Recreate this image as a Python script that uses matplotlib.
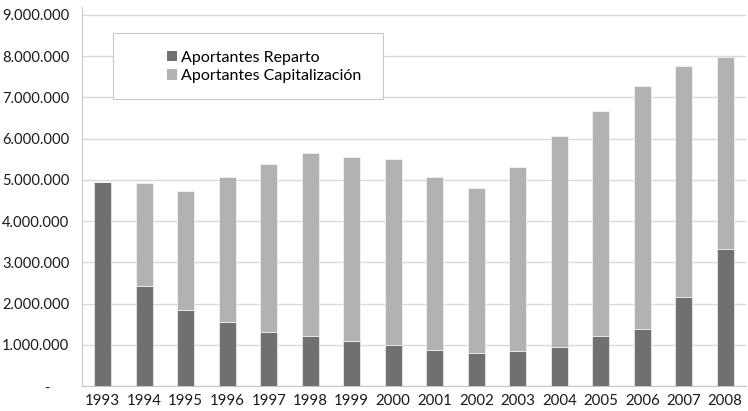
import matplotlib
matplotlib.use("Agg")
import matplotlib.pyplot as plt
from matplotlib.patches import Rectangle, Patch

years = ["1993", "1994", "1995", "1996", "1997", "1998", "1999", "2000",
         "2001", "2002", "2003", "2004", "2005", "2006", "2007", "2008"]
reparto = [4947000, 2425000, 1843000, 1544000, 1318000, 1221000, 1099000, 994000,
           881000, 808000, 857000, 946000, 1221000, 1382000, 2158000, 3323000]
capitalizacion = [0, 2490000, 2886000, 3517000, 4058000, 4430000, 4455000, 4511000,
                  4180000, 3986000, 4454000, 5117000, 5456000, 5902000, 5603000, 4664000]
yticks = [0, 1000000, 2000000, 3000000, 4000000, 5000000, 6000000, 7000000, 8000000, 9000000]
ytick_labels = ["-     ", "1.000.000", "2.000.000", "3.000.000", "4.000.000", "5.000.000",
                "6.000.000", "7.000.000", "8.000.000", "9.000.000"]
series_names = ["Aportantes Reparto", "Aportantes Capitalización"]

plt.rcParams['font.family'] = ['Lato', 'DejaVu Sans']

dark = "#707070"
light = "#b2b2b2"

fig = plt.figure(figsize=(7.48, 4.11), dpi=100)
W, H = 748, 411
ax = fig.add_axes([82 / W, (H - 386) / H, (746 - 82) / W, (386 - 7) / H])

x = range(len(years))
ax.bar(x, reparto, width=0.4, color=dark, edgecolor="white", linewidth=0.4, zorder=3)
ax.bar(x, capitalizacion, width=0.4, bottom=reparto, color=light, edgecolor="white",
       linewidth=0.4, zorder=3)

ax.set_xlim(-0.5, len(years) - 0.5)
ax.set_ylim(0, 9190000)
ax.set_yticks(yticks)
ax.set_yticklabels(ytick_labels, fontsize=10.6, color="#1a1a1a")
ax.set_xticks(list(x))
ax.set_xticklabels(years, fontsize=10.8, color="#1a1a1a")
ax.tick_params(axis="both", length=0)
ax.tick_params(axis="y", pad=9)
ax.tick_params(axis="x", pad=6)

ax.yaxis.grid(True, color="#d9d9d9", linewidth=1.0, zorder=0)
ax.set_axisbelow(True)
for s in ["top", "right"]:
    ax.spines[s].set_visible(False)
ax.spines["left"].set_color("#c8c8c8")
ax.spines["bottom"].set_color("#c8c8c8")

# legend box
box = Rectangle((113 / W, (H - 99) / H), (383 - 113) / W, (99 - 33) / H,
                transform=fig.transFigure, facecolor="white", edgecolor="#c8c8c8",
                linewidth=0.8, zorder=5)
fig.patches.append(box)
handles = [Patch(facecolor=dark, edgecolor="none"), Patch(facecolor=light, edgecolor="none")]
leg = fig.legend(handles, series_names, loc="center", bbox_to_anchor=(264 / W, (H - 67) / H),
                 frameon=False, fontsize=11.5, handlelength=0.65, handleheight=0.65,
                 handletextpad=0.2, labelspacing=0.3, borderpad=0)
leg.set_zorder(6)

fig.savefig("out.png", dpi=100)
